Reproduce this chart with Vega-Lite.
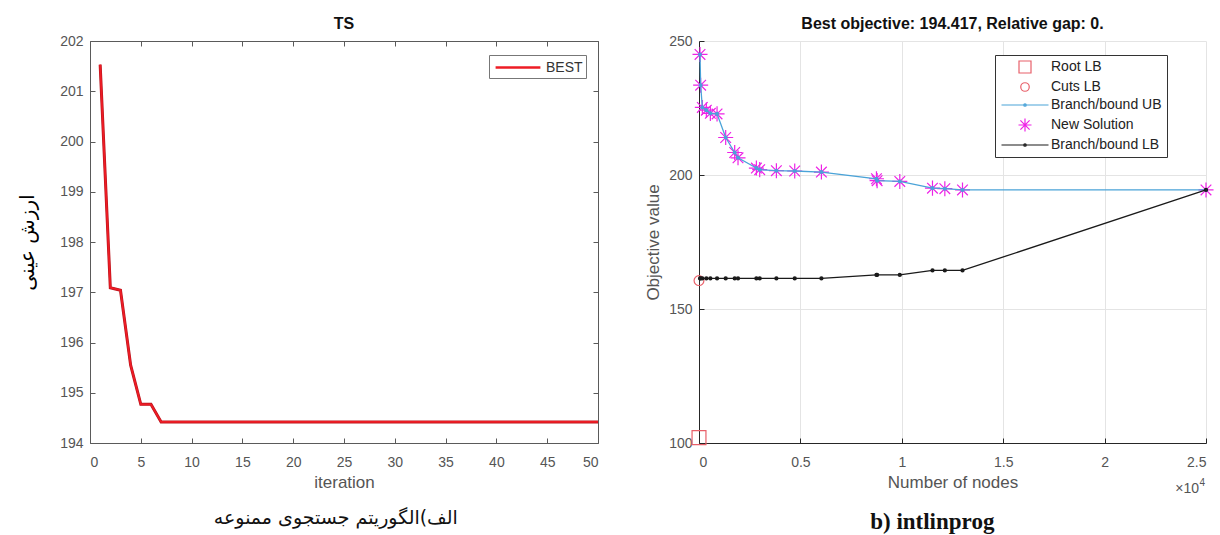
{
  "$schema": "https://vega.github.io/schema/vega-lite/v6.json",
  "background": "white",
  "padding": {"left": 17, "top": 16, "right": 4, "bottom": 2},
  "spacing": 40,
  "resolve": {"scale": {"color": "independent", "shape": "independent"}, "legend": {"color": "independent", "shape": "independent"}},
  "config": {
    "font": "Liberation Sans",
    "view": {"stroke": null},
    "axis": {"labelFont": "Liberation Sans", "labelFontSize": 14, "labelColor": "#555555", "titleFont": "Liberation Sans", "titleFontSize": 17, "titleFontWeight": "normal", "titleColor": "#555555", "domainColor": "#5a5a5a", "tickColor": "#5a5a5a", "grid": false, "tickSize": -5},
    "axisX": {"labelPadding": 17, "titlePadding": 5},
    "axisY": {"labelPadding": 12},
    "title": {"font": "Liberation Sans", "fontSize": 16, "fontWeight": "bold", "color": "#111111"},
    "legend": {"labelFont": "Liberation Sans"}
  },
  "datasets": {
    "ts": [
      {"iteration": 1, "value": 201.53}, {"iteration": 2, "value": 197.09}, {"iteration": 3, "value": 197.04}, {"iteration": 4, "value": 195.55}, {"iteration": 5, "value": 194.77},
      {"iteration": 6, "value": 194.77}, {"iteration": 7, "value": 194.42}, {"iteration": 8, "value": 194.42}, {"iteration": 9, "value": 194.42}, {"iteration": 10, "value": 194.42},
      {"iteration": 11, "value": 194.42}, {"iteration": 12, "value": 194.42}, {"iteration": 13, "value": 194.42}, {"iteration": 14, "value": 194.42}, {"iteration": 15, "value": 194.42},
      {"iteration": 16, "value": 194.42}, {"iteration": 17, "value": 194.42}, {"iteration": 18, "value": 194.42}, {"iteration": 19, "value": 194.42}, {"iteration": 20, "value": 194.42},
      {"iteration": 21, "value": 194.42}, {"iteration": 22, "value": 194.42}, {"iteration": 23, "value": 194.42}, {"iteration": 24, "value": 194.42}, {"iteration": 25, "value": 194.42},
      {"iteration": 26, "value": 194.42}, {"iteration": 27, "value": 194.42}, {"iteration": 28, "value": 194.42}, {"iteration": 29, "value": 194.42}, {"iteration": 30, "value": 194.42},
      {"iteration": 31, "value": 194.42}, {"iteration": 32, "value": 194.42}, {"iteration": 33, "value": 194.42}, {"iteration": 34, "value": 194.42}, {"iteration": 35, "value": 194.42},
      {"iteration": 36, "value": 194.42}, {"iteration": 37, "value": 194.42}, {"iteration": 38, "value": 194.42}, {"iteration": 39, "value": 194.42}, {"iteration": 40, "value": 194.42},
      {"iteration": 41, "value": 194.42}, {"iteration": 42, "value": 194.42}, {"iteration": 43, "value": 194.42}, {"iteration": 44, "value": 194.42}, {"iteration": 45, "value": 194.42},
      {"iteration": 46, "value": 194.42}, {"iteration": 47, "value": 194.42}, {"iteration": 48, "value": 194.42}, {"iteration": 49, "value": 194.42}, {"iteration": 50, "value": 194.42}
    ],
    "bb": [
      {"series": "Root LB", "nodes": 0, "value": 102},
      {"series": "Cuts LB", "nodes": 0, "value": 160.6},
      {"series": "Branch/bound UB", "nodes": 50, "value": 245.0},
      {"series": "Branch/bound UB", "nodes": 82, "value": 233.5},
      {"series": "Branch/bound UB", "nodes": 164, "value": 225.2},
      {"series": "Branch/bound UB", "nodes": 362, "value": 224.2},
      {"series": "Branch/bound UB", "nodes": 560, "value": 223.0},
      {"series": "Branch/bound UB", "nodes": 890, "value": 222.8},
      {"series": "Branch/bound UB", "nodes": 1316, "value": 214.0},
      {"series": "Branch/bound UB", "nodes": 1760, "value": 208.4},
      {"series": "Branch/bound UB", "nodes": 1924, "value": 206.4},
      {"series": "Branch/bound UB", "nodes": 2829, "value": 202.6},
      {"series": "Branch/bound UB", "nodes": 2993, "value": 202.0},
      {"series": "Branch/bound UB", "nodes": 3816, "value": 201.6},
      {"series": "Branch/bound UB", "nodes": 4720, "value": 201.5},
      {"series": "Branch/bound UB", "nodes": 6036, "value": 201.1},
      {"series": "Branch/bound UB", "nodes": 8750, "value": 198.6},
      {"series": "Branch/bound UB", "nodes": 8783, "value": 197.9},
      {"series": "Branch/bound UB", "nodes": 9901, "value": 197.6},
      {"series": "Branch/bound UB", "nodes": 11513, "value": 195.1},
      {"series": "Branch/bound UB", "nodes": 12122, "value": 194.9},
      {"series": "Branch/bound UB", "nodes": 12993, "value": 194.417},
      {"series": "Branch/bound UB", "nodes": 25000, "value": 194.417},
      {"series": "New Solution", "nodes": 50, "value": 245.0},
      {"series": "New Solution", "nodes": 82, "value": 233.5},
      {"series": "New Solution", "nodes": 164, "value": 225.2},
      {"series": "New Solution", "nodes": 362, "value": 224.2},
      {"series": "New Solution", "nodes": 560, "value": 223.0},
      {"series": "New Solution", "nodes": 890, "value": 222.8},
      {"series": "New Solution", "nodes": 1316, "value": 214.0},
      {"series": "New Solution", "nodes": 1760, "value": 208.4},
      {"series": "New Solution", "nodes": 1924, "value": 206.4},
      {"series": "New Solution", "nodes": 2829, "value": 202.6},
      {"series": "New Solution", "nodes": 2993, "value": 202.0},
      {"series": "New Solution", "nodes": 3816, "value": 201.6},
      {"series": "New Solution", "nodes": 4720, "value": 201.5},
      {"series": "New Solution", "nodes": 6036, "value": 201.1},
      {"series": "New Solution", "nodes": 8750, "value": 198.6},
      {"series": "New Solution", "nodes": 8783, "value": 197.9},
      {"series": "New Solution", "nodes": 9901, "value": 197.6},
      {"series": "New Solution", "nodes": 11513, "value": 195.1},
      {"series": "New Solution", "nodes": 12122, "value": 194.9},
      {"series": "New Solution", "nodes": 12993, "value": 194.417},
      {"series": "New Solution", "nodes": 25000, "value": 194.417},
      {"series": "Branch/bound LB", "nodes": 50, "value": 161.4},
      {"series": "Branch/bound LB", "nodes": 82, "value": 161.4},
      {"series": "Branch/bound LB", "nodes": 164, "value": 161.4},
      {"series": "Branch/bound LB", "nodes": 362, "value": 161.4},
      {"series": "Branch/bound LB", "nodes": 560, "value": 161.4},
      {"series": "Branch/bound LB", "nodes": 890, "value": 161.4},
      {"series": "Branch/bound LB", "nodes": 1316, "value": 161.4},
      {"series": "Branch/bound LB", "nodes": 1760, "value": 161.4},
      {"series": "Branch/bound LB", "nodes": 1924, "value": 161.4},
      {"series": "Branch/bound LB", "nodes": 2829, "value": 161.4},
      {"series": "Branch/bound LB", "nodes": 2993, "value": 161.4},
      {"series": "Branch/bound LB", "nodes": 3816, "value": 161.4},
      {"series": "Branch/bound LB", "nodes": 4720, "value": 161.4},
      {"series": "Branch/bound LB", "nodes": 6036, "value": 161.4},
      {"series": "Branch/bound LB", "nodes": 8750, "value": 162.7},
      {"series": "Branch/bound LB", "nodes": 8783, "value": 162.7},
      {"series": "Branch/bound LB", "nodes": 9901, "value": 162.7},
      {"series": "Branch/bound LB", "nodes": 11513, "value": 164.4},
      {"series": "Branch/bound LB", "nodes": 12122, "value": 164.4},
      {"series": "Branch/bound LB", "nodes": 12993, "value": 164.4},
      {"series": "Branch/bound LB", "nodes": 25000, "value": 194.417}
    ]
  },
  "hconcat": [
    {
      "title": {"text": "الف)الگوریتم جستجوی ممنوعه", "orient": "bottom", "font": "DejaVu Sans", "fontSize": 19, "fontWeight": "normal", "color": "#111111", "offset": 19, "anchor": "middle", "dx": 25},
      "vconcat": [
        {
          "width": 508,
          "height": 402,
          "title": {"text": "TS", "offset": 2, "anchor": "middle"},
          "data": {"name": "ts"},
          "resolve": {"axis": {"x": "independent", "y": "independent"}},
          "layer": [
            {
              "mark": {"type": "line", "color": "#b8141c", "strokeWidth": 3},
              "encoding": {
                "x": {"field": "iteration", "type": "quantitative", "scale": {"domain": [0, 50], "nice": false, "zero": false},
                      "axis": {"orient": "bottom", "values": [0, 5, 10, 15, 20, 25, 30, 35, 40, 45, 50], "title": "iteration"}},
                "y": {"field": "value", "type": "quantitative", "scale": {"domain": [194, 202], "nice": false, "zero": false},
                      "axis": {"orient": "left", "values": [194, 195, 196, 197, 198, 199, 200, 201, 202], "title": "ارزش عینی", "titleFont": "DejaVu Sans", "titleFontSize": 20, "titleColor": "#000000", "titlePadding": 22}}
              }
            },
            {
              "mark": {"type": "line", "strokeWidth": 1.8},
              "encoding": {
                "x": {"field": "iteration", "type": "quantitative",
                      "axis": {"orient": "top", "values": [0, 5, 10, 15, 20, 25, 30, 35, 40, 45, 50], "labels": false, "title": null}},
                "y": {"field": "value", "type": "quantitative",
                      "axis": {"orient": "right", "values": [194, 195, 196, 197, 198, 199, 200, 201, 202], "labels": false, "title": null}},
                "color": {"datum": "BEST", "type": "nominal", "scale": {"range": ["#ee1c25"]},
                          "legend": {"title": null, "orient": "none", "legendX": 399, "legendY": 14, "symbolType": "M-2.8,0H2.8", "symbolSize": 256, "symbolOffset": 16.5, "symbolStrokeWidth": 2.5, "labelOffset": 18.5, "labelFontSize": 14, "labelColor": "#333333", "strokeColor": "#777777", "fillColor": "white", "padding": 3}}
              }
            }
          ]
        }
      ]
    },
    {
      "title": {"text": "b) intlinprog", "orient": "bottom", "font": "Liberation Serif", "fontSize": 23, "fontWeight": "bold", "color": "#111111", "offset": 15, "anchor": "middle", "dx": 2},
      "vconcat": [
        {
          "width": 507,
          "height": 402,
          "title": {"text": "Best objective: 194.417, Relative gap: 0.", "offset": 2, "anchor": "middle"},
          "layer": [
            {
              "data": {"name": "bb"},
              "transform": [{"filter": "datum.series === 'New Solution' || datum.series === 'Root LB' || datum.series === 'Cuts LB'"}],
              "mark": {"type": "point", "size": 134, "strokeWidth": 1.2, "filled": false, "opacity": 1},
              "encoding": {
                "x": {"field": "nodes", "type": "quantitative", "scale": {"domain": [0, 25000], "nice": false, "zero": false},
                      "axis": {"values": [0, 5000, 10000, 15000, 20000, 25000], "labelExpr": "'' + datum.value / 10000", "title": "Number of nodes", "grid": true, "gridColor": "#e4e4e4", "domainColor": "#262626", "tickColor": "#262626"}},
                "y": {"field": "value", "type": "quantitative", "scale": {"domain": [100, 250], "nice": false, "zero": false},
                      "axis": {"values": [100, 150, 200, 250], "title": "Objective value", "titlePadding": 6, "grid": true, "gridColor": "#e4e4e4", "domainColor": "#262626", "tickColor": "#262626"}},
                "color": {"field": "series", "type": "nominal",
                          "scale": {"domain": ["Root LB", "Cuts LB", "Branch/bound UB", "New Solution", "Branch/bound LB"], "range": ["#e8606a", "#e8606a", "#4aa3d8", "#ee22e6", "#1a1a1a"]},
                          "legend": {"title": null, "orient": "none", "legendX": 296, "legendY": 14, "strokeColor": "#333333", "fillColor": "white", "padding": 5, "symbolSize": 100, "symbolOffset": 18, "labelOffset": 19, "labelFontSize": 14, "labelColor": "#222222", "rowPadding": 4, "symbolStrokeWidth": 1.2, "symbolFillColor": "transparent",
                                     "encode": {"symbols": {"update": {"fill": {"value": "transparent"}, "fillOpacity": {"value": 0}, "strokeWidth": {"value": 1.2}}}}}},
                "shape": {"field": "series", "type": "nominal",
                          "scale": {"domain": ["Root LB", "Cuts LB", "Branch/bound UB", "New Solution", "Branch/bound LB"],
                                    "range": ["M-1.2,-1.2H1.2V1.2H-1.2Z", "M0.85,0A0.85,0.85,0,1,1,-0.85,0A0.85,0.85,0,1,1,0.85,0Z", "M-4.7,0H4.7M0.25,0A0.25,0.25,0,1,1,-0.25,0A0.25,0.25,0,1,1,0.25,0Z", "M0,-1.3L0,1.3M-1.3,0L1.3,0M-0.92,-0.92L0.92,0.92M-0.92,0.92L0.92,-0.92", "M-4.7,0H4.7M0.25,0A0.25,0.25,0,1,1,-0.25,0A0.25,0.25,0,1,1,0.25,0Z"]}}
              }
            },
            {
              "data": {"name": "bb"},
              "transform": [{"filter": "datum.series === 'Branch/bound UB'"}],
              "mark": {"type": "line", "strokeWidth": 1.3, "point": {"filled": false, "size": 6, "strokeWidth": 1.6}},
              "encoding": {
                "x": {"field": "nodes", "type": "quantitative"},
                "y": {"field": "value", "type": "quantitative"},
                "color": {"field": "series", "type": "nominal"}
              }
            },
            {
              "data": {"name": "bb"},
              "transform": [{"filter": "datum.series === 'Branch/bound LB'"}],
              "mark": {"type": "line", "strokeWidth": 1.3, "point": {"filled": false, "size": 6, "strokeWidth": 1.8}},
              "encoding": {
                "x": {"field": "nodes", "type": "quantitative"},
                "y": {"field": "value", "type": "quantitative"},
                "color": {"field": "series", "type": "nominal"}
              }
            },
            {
              "data": {"values": [{"label": "×10", "exp": "4", "nodes": 25000}]},
              "layer": [
                {
                  "mark": {"type": "text", "align": "right", "baseline": "middle", "fontSize": 14, "color": "#555555", "clip": false, "dx": -7},
                  "encoding": {
                    "x": {"field": "nodes", "type": "quantitative"},
                    "y": {"datum": 83, "type": "quantitative"},
                    "text": {"field": "label", "type": "nominal"}
                  }
                },
                {
                  "mark": {"type": "text", "align": "right", "baseline": "middle", "fontSize": 10, "color": "#555555", "clip": false, "dx": -1, "dy": -6},
                  "encoding": {
                    "x": {"field": "nodes", "type": "quantitative"},
                    "y": {"datum": 83, "type": "quantitative"},
                    "text": {"field": "exp", "type": "nominal"}
                  }
                }
              ]
            }
          ]
        }
      ]
    }
  ]
}
